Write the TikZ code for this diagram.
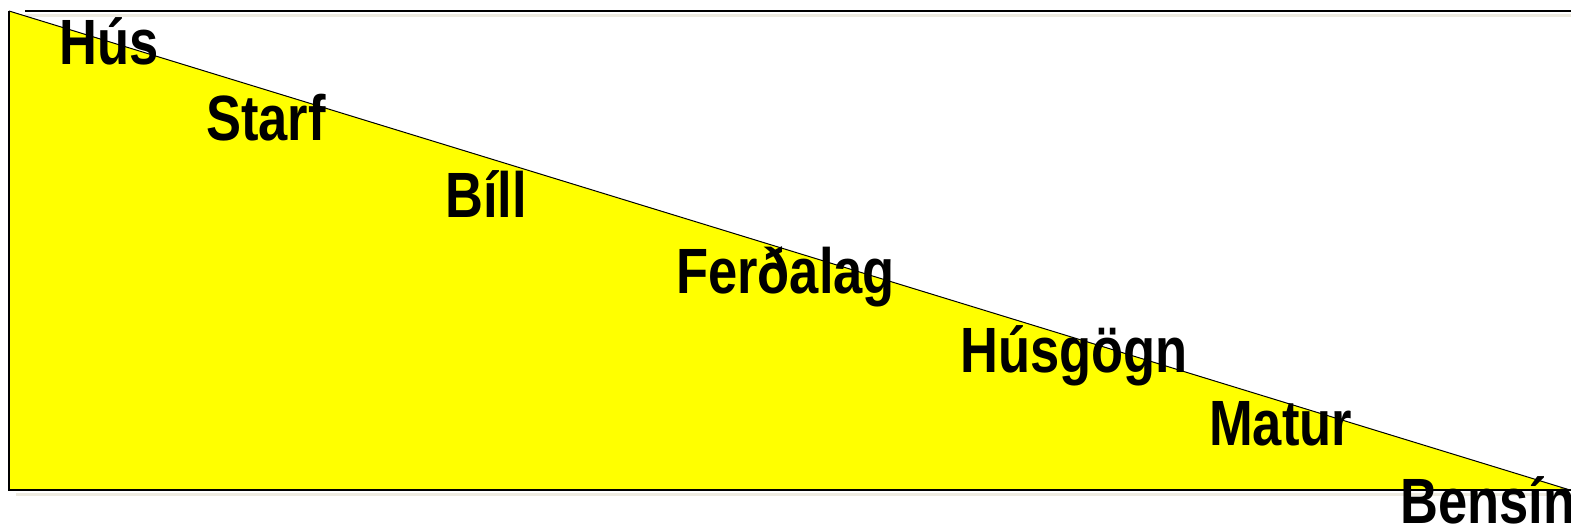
\documentclass[tikz,border=0pt]{standalone}
\usepackage{fontspec}
\newfontfamily\stepfont[FakeStretch=0.82]{Liberation Sans Bold}
\usetikzlibrary{positioning}
\definecolor{wedgeyellow}{RGB}{255,255,0}
\definecolor{frameshadow}{RGB}{238,235,224}
\tikzset{
  wedge fill/.style={fill=wedgeyellow,draw=none},
  wedge edge/.style={line width=1pt,black},
  frame line/.style={line width=2.2pt,black},
  frame shadow/.style={line width=3pt,frameshadow},
  wedge label/.style={font=\stepfont\fontsize{64}{70}\selectfont,
    anchor=base west,inner sep=0pt,text=black}
}
\begin{document}
\begin{tikzpicture}[x=1pt,y=-1pt]
  \useasboundingbox (0,0) rectangle (1571,527);
  % corners of the wedge
  \coordinate (top) at (9,11);
  \coordinate (foot) at (9,490);
  \coordinate (tip) at (1570,490);

  % shadows of the frame
  \draw[frame shadow] (25,15.5) -- (1571,15.5);
  \draw[frame shadow] (16,494.5) -- (1571,494.5);

  \fill[wedge fill] (top) -- (tip) -- (foot) -- cycle;
  \draw[wedge edge] (top) -- (tip);

  \draw[frame line] (25,11) -- (1571,11);
  \draw[frame line] (top) -- (foot) -- (tip) -- (1571,490);

  % steps down the slope
  \node[wedge label] (hus)      at (59,64)    {Hús};
  \node[wedge label] (starf)    at (206,140)  {Starf};
  \node[wedge label] (bill)     at (445,217)  {Bíll};
  \node[wedge label] (ferdalag) at (676,293)  {Ferðalag};
  \node[wedge label] (husgogn)  at (960,372)  {Húsgögn};
  \node[wedge label] (matur)    at (1209,445) {Matur};
  \node[wedge label] (bensin)   at (1400,523) {Bensín};
\end{tikzpicture}
\end{document}
